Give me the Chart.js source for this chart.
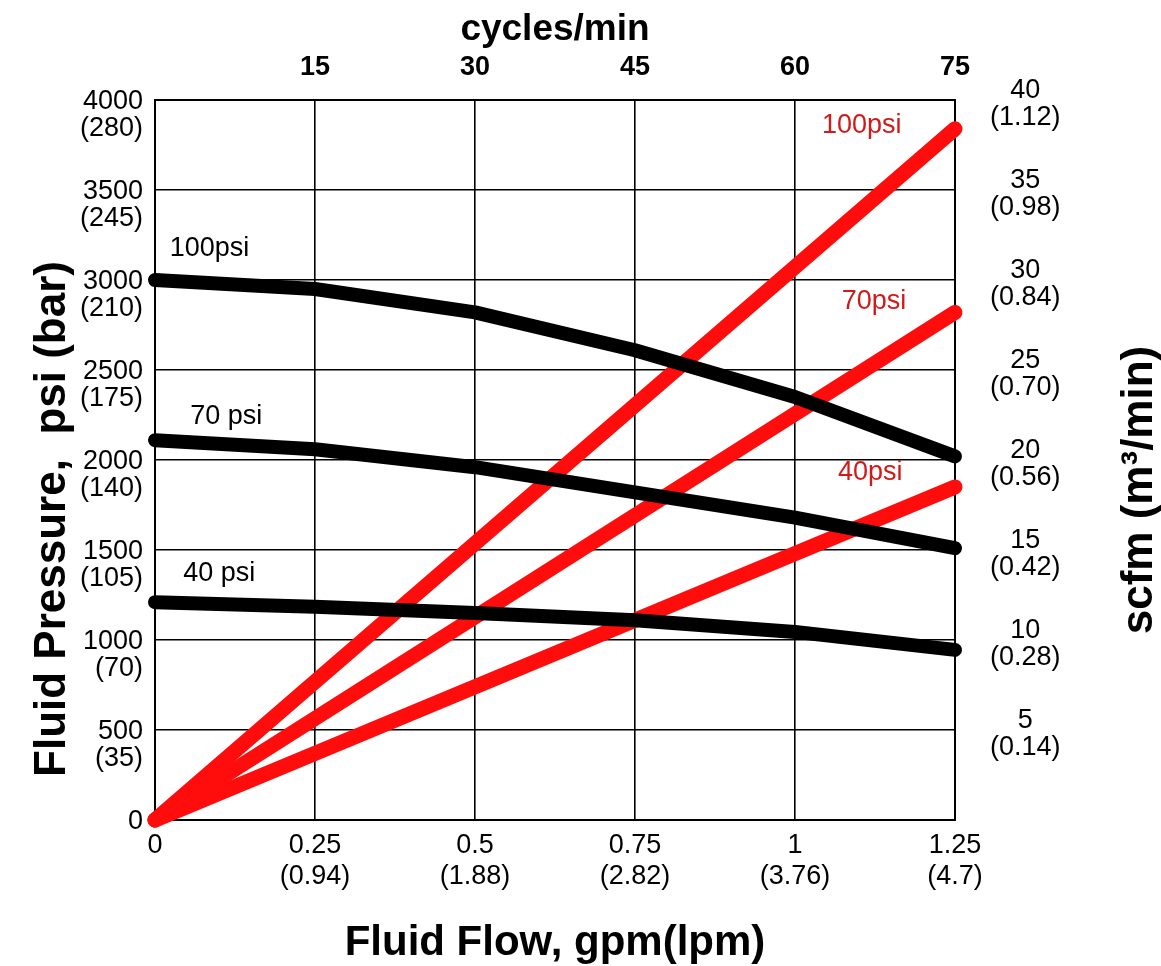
<!DOCTYPE html>
<html>
<head>
<meta charset="utf-8">
<script src="https://cdn.jsdelivr.net/npm/chart.js@4.4.0/dist/chart.umd.min.js"></script>
<style>
  html, body { margin: 0; padding: 0; background: #fff; }
  #wrap { width: 1161px; height: 966px; }
</style>
</head>
<body>
<div id="wrap"><canvas id="pumpChart"></canvas></div>
<script>
// Pump performance: fluid pressure (black) and air use (red) vs fluid flow

const FONT = "'Liberation Sans', Arial, Helvetica, sans-serif";

// fluid flow, gpm
const FLOW = [0, 0.25, 0.5, 0.75, 1, 1.25];
const FLOW_LABELS = ['0', '0.25', '0.5', '0.75', '1', '1.25'];
const LPM_LABELS = ['', '(0.94)', '(1.88)', '(2.82)', '(3.76)', '(4.7)'];

// cycles/min along the top
const CYCLE_LABELS = ['', '15', '30', '45', '60', '75'];

// fluid pressure, psi, at each flow point for 100 / 70 / 40 psi air
const PRESSURE_100 = [3000, 2950, 2820, 2610, 2350, 2020];
const PRESSURE_70 = [2110, 2060, 1960, 1820, 1680, 1510];
const PRESSURE_40 = [1210, 1185, 1150, 1110, 1045, 945];

// air consumption, scfm, straight from the origin to full flow
const AIR_FLOW = [0, 1.25];
const AIR_100 = [0, 38.4];
const AIR_70 = [0, 28.2];
const AIR_40 = [0, 18.5];

const PSI_LABELS = ['0', '500', '1000', '1500', '2000', '2500', '3000', '3500', '4000'];
const BAR_LABELS = ['', '(35)', '(70)', '(105)', '(140)', '(175)', '(210)', '(245)', '(280)'];
const SCFM_LABELS = ['', '5', '10', '15', '20', '25', '30', '35', '40'];
const M3_LABELS = ['', '(0.14)', '(0.28)', '(0.42)', '(0.56)', '(0.70)', '(0.84)', '(0.98)', '(1.12)'];

// curve names, placed in data units (gpm, psi)
const CURVE_LABELS = [
    { text: '100psi', x: 0.023, y: 3172, color: '#000' },
    { text: '70 psi', x: 0.055, y: 2244, color: '#000' },
    { text: '40 psi', x: 0.044, y: 1367, color: '#000' },
    { text: '100psi', x: 1.042, y: 3856, color: '#d11a1a' },
    { text: '70psi', x: 1.073, y: 2883, color: '#d11a1a' },
    { text: '40psi', x: 1.067, y: 1933, color: '#d11a1a' }
];

function points(xs, ys) {
    return xs.map(function (x, i) { return { x: x, y: ys[i] }; });
}

function pressureSet(label, values) {
    return {
        label: label,
        data: points(FLOW, values),
        yAxisID: 'y',
        borderColor: '#000',
        borderWidth: 14,
        borderCapStyle: 'round',
        borderJoinStyle: 'round',
        pointRadius: 0,
        tension: 0,
        clip: false
    };
}

function airSet(label, values) {
    return {
        label: label,
        data: points(AIR_FLOW, values),
        yAxisID: 'yRight',
        borderColor: '#ff0d0d',
        borderWidth: 15,
        borderCapStyle: 'round',
        pointRadius: 0,
        tension: 0,
        clip: false
    };
}

const curveLabelPlugin = {
    id: 'curveLabels',
    afterDatasetsDraw: function (chart) {
        const ctx = chart.ctx;
        const xs = chart.scales.x, ys = chart.scales.y;
        ctx.save();
        ctx.font = '27px ' + FONT;
        ctx.textAlign = 'left';
        ctx.textBaseline = 'middle';
        CURVE_LABELS.forEach(function (l) {
            ctx.fillStyle = l.color;
            ctx.fillText(l.text, xs.getPixelForValue(l.x), ys.getPixelForValue(l.y));
        });
        ctx.restore();
    }
};

// both side titles read bottom-to-top, so draw them here
const sideTitlePlugin = {
    id: 'sideTitles',
    afterDraw: function (chart) {
        const ctx = chart.ctx;
        ctx.save();
        ctx.fillStyle = '#000';
        ctx.font = 'bold 44px ' + FONT;
        ctx.textAlign = 'center';
        ctx.textBaseline = 'alphabetic';

        ctx.save();
        ctx.translate(65, 519);
        ctx.rotate(-Math.PI / 2);
        ctx.fillText('Fluid Pressure,  psi (bar)', 0, 0);
        ctx.restore();

        ctx.save();
        ctx.translate(1152, 490);
        ctx.rotate(-Math.PI / 2);
        ctx.fillText('scfm (m\u00B3/min)', 0, 0);
        ctx.restore();

        ctx.restore();
    }
};

const tickFont = { family: FONT, size: 27, lineHeight: 1.0 };

new Chart(document.getElementById('pumpChart'), {
    type: 'line',
    data: {
        datasets: [
            pressureSet('100psi', PRESSURE_100),
            pressureSet('70 psi', PRESSURE_70),
            pressureSet('40 psi', PRESSURE_40),
            airSet('100psi air', AIR_100),
            airSet('70psi air', AIR_70),
            airSet('40psi air', AIR_40)
        ]
    },
    options: {
        responsive: true,
        maintainAspectRatio: false,
        animation: false,
        layout: { padding: 0 },
        plugins: { legend: { display: false }, tooltip: { enabled: false } },
        scales: {
            x: {
                type: 'linear', position: 'bottom', min: 0, max: 1.25,
                afterFit: function (s) { s.height = 146; },
                ticks: {
                    stepSize: 0.25, color: '#000', padding: 10, maxRotation: 0, autoSkip: false,
                    font: { family: FONT, size: 27, lineHeight: 1.15 },
                    callback: function (v, i) {
                        return LPM_LABELS[i] ? [FLOW_LABELS[i], LPM_LABELS[i]] : FLOW_LABELS[i];
                    }
                },
                grid: { color: '#000', lineWidth: 1.6, drawTicks: false },
                border: { color: '#000', width: 2 },
                title: {
                    display: true, text: 'Fluid Flow, gpm(lpm)', color: '#000',
                    font: { family: FONT, size: 42, weight: 'bold', lineHeight: 1 },
                    padding: { top: 0, bottom: 2 }
                }
            },
            xTop: {
                type: 'linear', position: 'top', min: 0, max: 75,
                afterFit: function (s) { s.height = 100; },
                ticks: {
                    stepSize: 15, color: '#000', padding: 16, maxRotation: 0, autoSkip: false,
                    font: { family: FONT, size: 27, weight: 'bold', lineHeight: 1.2 },
                    callback: function (v, i) { return CYCLE_LABELS[i]; }
                },
                grid: { drawOnChartArea: false, drawTicks: false },
                border: { color: '#000', width: 2 },
                title: {
                    display: true, text: 'cycles/min', color: '#000',
                    font: { family: FONT, size: 37, weight: 'bold', lineHeight: 1 },
                    padding: { top: 11, bottom: 0 }
                }
            },
            y: {
                type: 'linear', position: 'left', min: 0, max: 4000,
                afterFit: function (s) { s.width = 155; },
                ticks: {
                    stepSize: 500, color: '#000', padding: 12, labelOffset: 15, autoSkip: false,
                    font: tickFont,
                    callback: function (v, i) { return [PSI_LABELS[i], BAR_LABELS[i]]; }
                },
                grid: { color: '#000', lineWidth: 1.6, drawTicks: false },
                border: { color: '#000', width: 2 }
            },
            yRight: {
                type: 'linear', position: 'right', min: 0, max: 40,
                afterFit: function (s) { s.width = 206; },
                ticks: {
                    stepSize: 5, color: '#000', padding: 35, labelOffset: 4, autoSkip: false,
                    crossAlign: 'center',
                    font: tickFont,
                    callback: function (v, i) { return [SCFM_LABELS[i], M3_LABELS[i]]; }
                },
                grid: { drawOnChartArea: false, drawTicks: false },
                border: { color: '#000', width: 2 }
            }
        }
    },
    plugins: [curveLabelPlugin, sideTitlePlugin]
});
</script>
</body>
</html>
